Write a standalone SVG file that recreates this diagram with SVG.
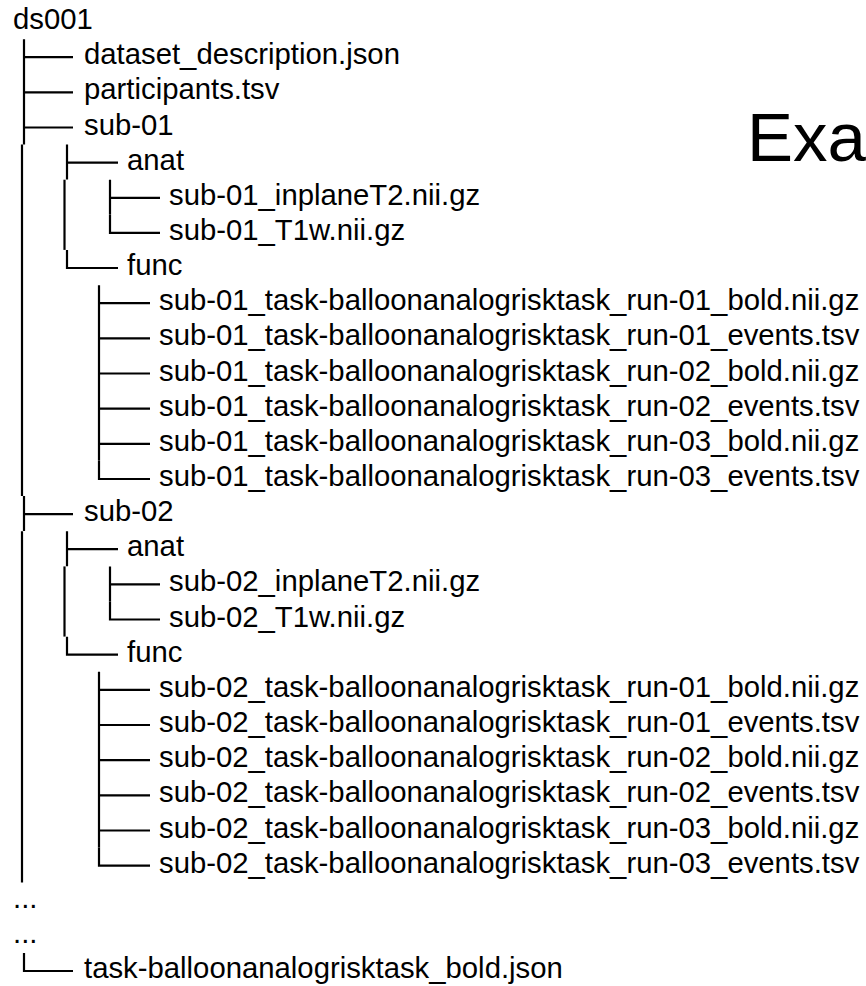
<svg xmlns="http://www.w3.org/2000/svg" width="866" height="986" viewBox="0 0 866 986">
<style>
text{font-family:"Liberation Sans",Arial,sans-serif;font-size:29.3px;fill:#000}
.title{font-size:69px}
.ln{fill:none;stroke:#000;stroke-width:2.2}
</style>
<rect width="866" height="986" fill="#fff"/>
<g id="connectors" class="ln">
<path d="M24 39.2V144.5M24 57.2H73M24 92.3H73M24 127.5H73"/>
<path d="M22 144.6V496"/>
<path d="M24 496.1V531.1M24 514.1H73"/>
<path d="M22 531.2V882.6"/>
<path d="M24 953V971H73"/>
<path d="M67 144.6V179.6M67 162.6H118"/>
<path d="M64.5 179.7V249.9"/>
<path d="M67 250V268H118"/>
<path d="M110 179.7V214.8M110 197.8H160"/>
<path d="M110 214.9V232.9H160"/>
<path d="M99 285.2V460.8M99 303.2H150M99 338.4H150M99 373.5H150M99 408.7H150M99 443.8H150"/>
<path d="M99 460.9V479H150"/>
<path d="M67 531.2V566.2M67 549.2H118"/>
<path d="M64.5 566.4V636.6"/>
<path d="M67 636.7V654.7H118"/>
<path d="M110 566.4V601.4M110 584.4H160"/>
<path d="M110 601.5V619.5H160"/>
<path d="M99 671.8V847.5M99 689.9H150M99 725H150M99 760.2H150M99 795.3H150M99 830.5H150"/>
<path d="M99 847.6V865.6H150"/>
</g>
<g id="title"><text class="title" x="747" y="161">Exa</text></g>
<g id="ds001"><text x="13" y="29">ds001</text></g>
<g id="dataset_description"><text x="84" y="64.2">dataset_description.json</text></g>
<g id="participants"><text x="84" y="99.3">participants.tsv</text></g>
<g id="sub-01"><text x="84" y="134.5">sub-01</text></g>
<g id="sub-01-anat"><text x="127" y="169.6">anat</text></g>
<g id="sub-01-inplaneT2"><text x="169" y="204.8">sub-01_inplaneT2.nii.gz</text></g>
<g id="sub-01-T1w"><text x="169" y="239.9">sub-01_T1w.nii.gz</text></g>
<g id="sub-01-func"><text x="127" y="275.1">func</text></g>
<g id="sub-01-run-01-bold"><text x="159" y="310.2">sub-01_task-balloonanalogrisktask_run-01_bold.nii.gz</text></g>
<g id="sub-01-run-01-events"><text x="159" y="345.4">sub-01_task-balloonanalogrisktask_run-01_events.tsv</text></g>
<g id="sub-01-run-02-bold"><text x="159" y="380.5">sub-01_task-balloonanalogrisktask_run-02_bold.nii.gz</text></g>
<g id="sub-01-run-02-events"><text x="159" y="415.7">sub-01_task-balloonanalogrisktask_run-02_events.tsv</text></g>
<g id="sub-01-run-03-bold"><text x="159" y="450.8">sub-01_task-balloonanalogrisktask_run-03_bold.nii.gz</text></g>
<g id="sub-01-run-03-events"><text x="159" y="486">sub-01_task-balloonanalogrisktask_run-03_events.tsv</text></g>
<g id="sub-02"><text x="84" y="521.1">sub-02</text></g>
<g id="sub-02-anat"><text x="127" y="556.2">anat</text></g>
<g id="sub-02-inplaneT2"><text x="169" y="591.4">sub-02_inplaneT2.nii.gz</text></g>
<g id="sub-02-T1w"><text x="169" y="626.5">sub-02_T1w.nii.gz</text></g>
<g id="sub-02-func"><text x="127" y="661.7">func</text></g>
<g id="sub-02-run-01-bold"><text x="159" y="696.9">sub-02_task-balloonanalogrisktask_run-01_bold.nii.gz</text></g>
<g id="sub-02-run-01-events"><text x="159" y="732">sub-02_task-balloonanalogrisktask_run-01_events.tsv</text></g>
<g id="sub-02-run-02-bold"><text x="159" y="767.2">sub-02_task-balloonanalogrisktask_run-02_bold.nii.gz</text></g>
<g id="sub-02-run-02-events"><text x="159" y="802.3">sub-02_task-balloonanalogrisktask_run-02_events.tsv</text></g>
<g id="sub-02-run-03-bold"><text x="159" y="837.5">sub-02_task-balloonanalogrisktask_run-03_bold.nii.gz</text></g>
<g id="sub-02-run-03-events"><text x="159" y="872.6">sub-02_task-balloonanalogrisktask_run-03_events.tsv</text></g>
<g id="ellipsis-1"><text x="13" y="907.8">...</text></g>
<g id="ellipsis-2"><text x="13" y="942.9">...</text></g>
<g id="task-bold-json"><text x="84" y="978">task-balloonanalogrisktask_bold.json</text></g>
</svg>
